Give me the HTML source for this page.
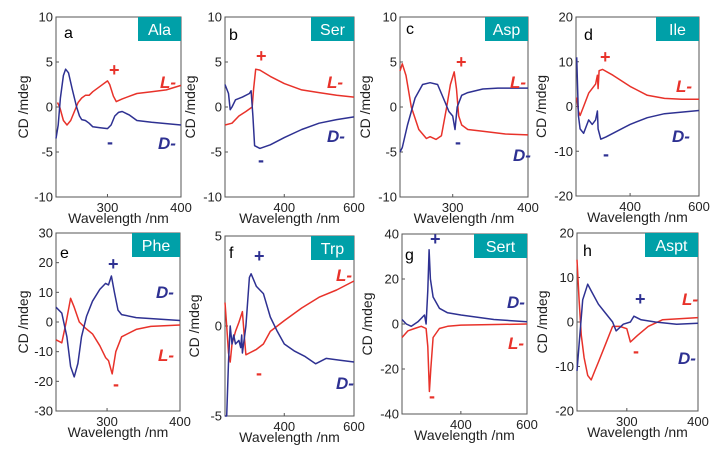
<!DOCTYPE html>
<html><head><meta charset="utf-8"><style>
body{margin:0;background:#fff}
svg{display:block;font-family:"Liberation Sans",sans-serif}
</style></head><body>
<svg id="fig" width="722" height="455" viewBox="0 0 722 455" xmlns="http://www.w3.org/2000/svg"></svg>
<script>
const panelIds=['a','b','c','d','e','f','g','h'];
const panelNames=['Ala','Ser','Asp','Ile','Phe','Trp','Sert','Aspt'];
const xDomains=[[230,400],[230,600],[230,400],[243,600],[230,400],[230,600],[222,600],[230,400]];
const yDomains=[[-10,10],[-10,10],[-10,10],[-20,20],[-30,30],[-5,5],[-40,40],[-20,20]];
const xTickVals=[[300,400],[400,600],[300,400],[400,600],[300,400],[400,600],[400,600],[300,400]];
const yTickVals=[[-10,-5,0,5,10],[-10,-5,0,5,10],[-10,-5,0,5,10],[-20,-10,0,10,20],[-30,-20,-10,0,10,20,30],[-5,0,5],[-40,-20,0,20,40],[-20,-10,0,10,20]];
const lSeries=[
[[232,0.5],[235,0],[240,-1.5],[245,-2],[250,-1.5],[255,-0.5],[260,0.5],[265,1],[270,1.3],[275,1.3],[280,1.7],[290,2.3],[300,2.9],[303,2.5],[308,1.2],[312,0.6],[320,0.9],[330,1.2],[340,1.5],[360,1.7],[380,1.9],[400,2.4]],
[[230,-2],[250,-1.8],[270,-1],[290,-0.5],[308,0],[312,2],[318,4.2],[330,4.1],[360,3.4],[400,2.6],[450,1.9],[500,1.6],[550,1.3],[600,1.1]],
[[230,4],[233,4.8],[238,3.5],[245,0],[255,-2.5],[265,-3.5],[270,-3.3],[278,-3.6],[285,-3.2],[292,0],[297,2.5],[302,3.9],[305,2],[308,-1],[312,-2],[320,-2.5],[340,-2.7],[370,-3],[400,-3.1]],
[[245,2],[250,-1],[255,-2],[265,0],[280,3],[300,5],[305,7],[307,4],[310,8],[320,8.3],[350,7],[400,4.5],[450,2.5],[500,1.8],[550,1.6],[600,1.6]],
[[230,-6],[238,-7],[244,0],[250,8],[255,5],[262,0],[270,-2],[280,-4],[290,-8],[298,-12],[302,-13],[307,-17.5],[312,-10],[320,-5],[340,-2.5],[360,-1.5],[400,-1]],
[[230,1.3],[235,0],[240,-1.5],[245,-2],[250,-1],[260,-0.3],[270,0.2],[280,0.8],[285,-0.5],[290,-1.6],[300,-1.5],[320,-1.3],[340,-1],[360,-0.3],[400,0.3],[450,1],[500,1.6],[550,2],[600,2.5]],
[[222,-6],[240,-3],[260,-2],[280,-1],[295,-2],[300,-10],[305,-30],[309,-20],[316,-6],[335,-2],[360,-1],[400,-0.5],[600,0]],
[[230,14],[233,5],[236,-3],[240,-8],[245,-12],[250,-13],[255,-11],[260,-9],[270,-5],[280,-1],[290,-1],[300,-1.5],[305,-4.5],[315,-3],[330,-1],[350,0.5],[400,1]]
];
const dSeries=[
[[230,-3.5],[233,-2],[236,1],[240,3.5],[243,4.2],[247,3.8],[252,2],[258,0],[262,-1],[265,-1.4],[270,-1.5],[275,-1.8],[280,-2.2],[290,-2.3],[300,-2.4],[305,-2],[310,-1],[315,-0.6],[320,-0.5],[330,-0.9],[340,-1.5],[360,-1.7],[400,-2]],
[[230,2.5],[240,1.5],[245,-0.3],[250,0],[260,0.8],[280,1.1],[300,1.5],[305,1.8],[310,-1],[315,-4.3],[330,-4.6],[360,-4.2],[400,-3.4],[450,-2.5],[500,-1.8],[550,-1.4],[600,-1.1]],
[[230,-5],[233,-4.5],[240,-2],[250,1],[260,2.5],[270,2.7],[280,2.5],[285,1.5],[290,0.5],[295,-0.5],[300,-1],[303,-2.5],[306,0],[312,1.3],[320,1.6],[340,2],[360,2.1],[400,2.1]],
[[245,11],[250,-2],[255,-5],[265,-6],[280,-3],[290,-4],[300,-3],[305,-1],[307,-5],[315,-7.3],[330,-6.8],[400,-4],[450,-2.5],[500,-1.6],[600,-0.9]],
[[230,5],[238,3],[245,-5],[250,-15],[255,-18.5],[260,-14],[265,-5],[272,2],[280,7],[290,11],[298,13],[302,12.5],[306,15.5],[310,10],[315,4],[320,2.5],[340,1.5],[400,0.5]],
[[230,-5],[235,-5],[240,-2],[245,0],[250,-1],[255,-0.5],[260,-1],[270,-0.8],[275,-1.2],[278,-0.5],[280,-1.5],[290,0],[300,2.7],[305,2.9],[320,2.2],[340,1.8],[360,0.5],[380,-0.3],[400,-1],[430,-1.4],[460,-1.7],[490,-2.1],[520,-1.8],[560,-1.9],[600,-2]],
[[222,2],[235,0],[250,-1],[270,1],[290,4],[295,0],[300,15],[304,33],[308,20],[316,12],[335,7],[360,5],[400,4],[450,3],[500,2],[600,1]],
[[230,-11],[233,-5],[238,5],[245,8.5],[250,7],[260,4],[270,2],[280,0],[285,-2],[295,-0.5],[305,0],[310,1.3],[320,0.5],[340,0],[370,-0.5],[400,-0.3]]
];
const rects=[[56,17,181,197],[225,17,354,197],[400,17,528,197],[576,17,699,196],[56,233,180,411],[225,236,354,416],[402,234,527,414],[577,233,698,411]];
const notes=[
[['a',64,38,'#000'],['+',109,76,'#e8322a'],['-',107,148,'#2e3192'],['L-',160,88,'#e8322a'],['D-',158,149,'#2e3192']],
[['b',229,40,'#000'],['+',256,62,'#e8322a'],['-',258,166,'#2e3192'],['L-',327,88,'#e8322a'],['D-',327,142,'#2e3192']],
[['c',406,34,'#000'],['+',456,68,'#e8322a'],['-',455,148,'#2e3192'],['L-',510,88,'#e8322a'],['D-',513,161,'#2e3192']],
[['d',584,40,'#000'],['+',600,63,'#e8322a'],['-',603,160,'#2e3192'],['L-',676,92,'#e8322a'],['D-',672,142,'#2e3192']],
[['e',60,258,'#000'],['+',108,270,'#2e3192'],['-',113,390,'#e8322a'],['D-',156,298,'#2e3192'],['L-',158,361,'#e8322a']],
[['f',229,258,'#000'],['+',254,262,'#2e3192'],['-',256,379,'#e8322a'],['L-',336,281,'#e8322a'],['D-',336,389,'#2e3192']],
[['g',405,260,'#000'],['+',430,245,'#2e3192'],['-',429,402,'#e8322a'],['D-',507,308,'#2e3192'],['L-',508,349,'#e8322a']],
[['h',583,256,'#000'],['+',635,305,'#2e3192'],['-',633,357,'#e8322a'],['L-',682,305,'#e8322a'],['D-',678,364,'#2e3192']]
];
const NS='http://www.w3.org/2000/svg';
const svg=document.getElementById('fig');
function mk(tag,attrs,parent,text){const e=document.createElementNS(NS,tag);for(const k in attrs)e.setAttribute(k,attrs[k]);if(text!==undefined)e.textContent=text;parent.appendChild(e);return e;}
panelIds.forEach((id,i)=>{
  const [x0,y0,x1,y1]=rects[i];
  const xd=xDomains[i],yd=yDomains[i];
  const sx=v=>x0+(v-xd[0])/(xd[1]-xd[0])*(x1-x0);
  const sy=v=>y1-(v-yd[0])/(yd[1]-yd[0])*(y1-y0);
  const g=mk('g',{},svg);
  
  
  const fr=mk('rect',{x:x0,y:y0,width:x1-x0,height:y1-y0,fill:'none',stroke:'#555','stroke-width':1},g);
  
  
  yTickVals[i].forEach(v=>{
    const y=sy(v);
    mk('line',{x1:x0,x2:x0+3,y1:y,y2:y,stroke:'#555'},g);
    const t=mk('text',{x:x0-3,y:y+4.5,'font-size':13,'text-anchor':'end',fill:'#222'},g,String(v));
    
    
  });
  xTickVals[i].forEach(v=>{
    const x=sx(v);
    mk('line',{x1:x,x2:x,y1:y1,y2:y1-3,stroke:'#555'},g);
    const t=mk('text',{x:x,y:y1+15,'font-size':13,'text-anchor':'middle',fill:'#222'},g,String(v));
    
    
  });
  const xt=mk('text',{x:(x0+x1)/2,y:y1+26,'font-size':14,'text-anchor':'middle',fill:'#222'},g,'Wavelength /nm');
  
  
  const cx=x0-(i%4===0?28:(i===5?26:30)),cy=(y0+y1)/2;
  const yt=mk('text',{x:cx,y:cy,'font-size':14,'text-anchor':'middle',fill:'#222',transform:`rotate(-90 ${cx} ${cy})`},g,'CD /mdeg');
  
  
  [[lSeries[i],'#e8322a','l-series'],[dSeries[i],'#2e3192','d-series']].forEach(([s,c,n])=>{
    const d=s.map((p,k)=>(k?'L':'M')+sx(p[0]).toFixed(1)+' '+sy(p[1]).toFixed(1)).join(' ');
    const p=mk('path',{d:d,fill:'none',stroke:c,'stroke-width':1.5,'stroke-linejoin':'round'},g);
    
    
  });
  const bw=i===6||i===7?53:(i===4?48:43);
  const bx=mk('rect',{x:x1-bw,y:y0,width:bw,height:24,fill:'#00a0a8'},g);
  
  
  const bt=mk('text',{x:x1-bw/2,y:y0+18,'font-size':16,'text-anchor':'middle',fill:'#fff'},g,panelNames[i]);
  
  
  notes[i].forEach(([txt,x,y,c],k)=>{
    const isLetter=k===0;
    const t=mk('text',{x:x,y:y,'font-size':isLetter?16:(txt.length>1?17:18),'font-weight':isLetter?'normal':'bold','font-style':txt.length>1?'italic':'normal',fill:c},g,txt);
    
    
  });
});
</script>
</body></html>
